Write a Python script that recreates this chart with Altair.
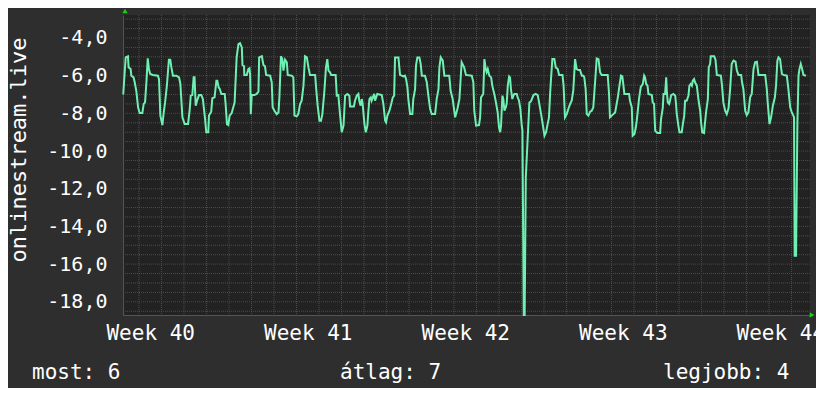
import altair as alt
import pandas as pd

# ---- data (x in days since Monday of week 40) ----
days = [2.30, 2.41, 2.51, 2.54, 2.63, 2.66, 2.76, 2.81, 2.88, 2.96, 3.03, 3.15, 3.21, 3.27, 3.33,
        3.39, 3.44, 3.50, 3.62, 3.84, 3.89, 3.95, 4.04, 4.10, 4.16, 4.24, 4.33, 4.39, 4.44, 4.51,
        4.66, 4.78, 4.84, 4.93, 5.03, 5.18, 5.25, 5.30, 5.37, 5.43, 5.47, 5.52, 5.58, 5.67, 5.77,
        5.84, 5.93, 5.99, 6.08, 6.11, 6.21, 6.26, 6.36, 6.44, 6.48, 6.54, 6.59, 6.66, 6.81, 6.85,
        6.91, 6.97, 7.03, 7.12, 7.25, 7.34, 7.42, 7.49, 7.57, 7.60, 7.67, 7.68, 7.79, 7.86, 7.91,
        7.94, 7.97, 8.01, 8.13, 8.23, 8.31, 8.34, 8.46, 8.53, 8.60, 8.65, 8.83, 8.90, 8.94, 9.02,
        9.12, 9.20, 9.24, 9.31, 9.37, 9.42, 9.49, 9.57, 9.61, 9.79, 9.86, 9.91, 10.01, 10.08, 10.16,
        10.23, 10.31, 10.38, 10.46, 10.53, 10.60, 10.83, 10.87, 10.94, 11.02, 11.09, 11.15, 11.24, 11.31, 11.37,
        11.42, 11.49, 11.54, 11.74, 11.79, 11.86, 11.94, 12.01, 12.09, 12.16, 12.26, 12.35, 12.38, 12.55, 12.60,
        12.68, 12.75, 12.79, 12.85, 12.90, 12.94, 13.02, 13.08, 13.15, 13.19, 13.24, 13.30, 13.34, 13.45, 13.49,
        13.54, 13.59, 13.79, 13.86, 13.94, 13.98, 14.04, 14.13, 14.19, 14.28, 14.34, 14.38, 14.53, 14.60, 14.75,
        14.82, 14.87, 14.93, 14.97, 15.05, 15.15, 15.19, 15.27, 15.31, 15.37, 15.46, 15.52, 15.57, 15.71, 15.79,
        15.86, 15.94, 16.01, 16.16, 16.23, 16.31, 16.35, 16.41, 16.50, 16.57, 16.79, 16.85, 16.94, 17.05, 17.15,
        17.24, 17.34, 17.45, 17.53, 17.79, 17.86, 17.90, 17.98, 18.11, 18.16, 18.20, 18.30, 18.35, 18.41, 18.45,
        18.50, 18.57, 18.65, 18.70, 18.79, 18.85, 18.94, 19.00, 19.05, 19.09, 19.15, 19.19, 19.24, 19.30, 19.34,
        19.39, 19.45, 19.49, 19.53, 19.59, 19.64, 19.68, 19.79, 19.83, 19.89, 19.95, 20.01, 20.04, 20.10, 20.14,
        20.19, 20.35, 20.42, 20.53, 20.63, 20.72, 20.78, 20.87, 20.93, 21.02, 21.09, 21.16, 21.22, 21.27, 21.31,
        21.37, 21.46, 21.52, 21.61, 21.67, 21.82, 21.87, 21.93, 22.01, 22.08, 22.16, 22.23, 22.30, 22.38, 22.45,
        22.53, 22.60, 22.68, 22.75, 22.79, 22.85, 22.90, 22.97, 23.05, 23.12, 23.19, 23.30, 23.34, 23.42, 23.49,
        23.56, 23.83, 23.89, 23.93, 24.01, 24.08, 24.16, 24.28, 24.33, 24.42, 24.48, 24.53, 24.57, 24.78, 24.82,
        24.90, 24.94, 25.02, 25.08, 25.12, 25.16, 25.22, 25.30, 25.39, 25.45, 25.49, 25.54, 25.60, 25.64, 25.79,
        25.83, 25.89, 25.94, 26.04, 26.16, 26.20, 26.28, 26.31, 26.38, 26.43, 26.46, 26.50, 26.56, 26.60, 26.65,
        26.75, 26.83, 26.86, 26.90, 26.97, 27.02, 27.12, 27.17, 27.23, 27.27, 27.34, 27.42, 27.46, 27.52, 27.57,
        27.61, 27.67, 27.71, 27.79, 27.86, 27.94, 27.98, 28.03, 28.11, 28.20, 28.28, 28.32, 28.38, 28.41, 28.56,
        28.62, 28.68, 28.86, 28.91, 28.97, 29.05, 29.12, 29.20, 29.27, 29.34, 29.42, 29.51, 29.57, 29.64, 29.76,
        29.80, 29.86, 29.94, 30.01, 30.08, 30.16, 30.23, 30.31, 30.38, 30.46, 30.53, 30.83, 30.90, 30.94, 31.02,
        31.09, 31.17, 31.26, 31.31, 31.37, 31.42, 31.49, 31.57, 31.64, 31.79, 31.86, 31.94, 32.01, 32.08, 32.11,
        32.14, 32.20, 32.26, 32.31, 32.35, 32.41, 32.47, 32.53, 32.64]

values = [-7.0, -5.03, -4.97, -5.56, -5.65, -6.0, -6.09, -6.35, -6.8, -7.68, -7.98, -7.98, -7.5, -7.42, -6.35,
          -5.08, -5.65, -5.91, -5.96, -6.0, -6.18, -8.12, -8.62, -7.95, -7.42, -6.53, -5.15, -5.15, -5.56, -6.0,
          -6.0, -6.09, -6.44, -8.21, -8.57, -8.57, -7.86, -7.06, -7.03, -6.09, -6.09, -7.59, -7.33, -7.03, -7.03,
          -7.24, -8.21, -9.0, -9.0, -8.12, -7.91, -7.2, -7.15, -6.27, -6.27, -6.62, -6.71, -6.97, -6.97, -7.5,
          -8.57, -8.62, -8.12, -7.98, -7.42, -5.03, -4.32, -4.27, -4.5, -5.43, -5.5, -5.96, -5.96, -5.65, -5.61,
          -5.96, -8.04, -7.03, -7.03, -6.97, -6.85, -5.03, -4.97, -5.43, -5.5, -5.96, -6.0, -6.35, -7.68, -7.86,
          -8.04, -7.95, -7.15, -4.97, -5.12, -5.73, -5.15, -5.29, -5.96, -6.0, -6.09, -8.12, -8.16, -8.04, -7.5,
          -7.33, -6.53, -4.97, -5.03, -5.56, -5.96, -5.96, -6.62, -7.59, -8.39, -8.39, -8.04, -6.8, -5.56, -5.12,
          -5.73, -5.82, -5.96, -5.96, -7.06, -7.03, -8.12, -9.0, -8.65, -7.06, -6.97, -7.06, -7.63, -7.63, -7.33,
          -7.06, -6.97, -7.33, -7.59, -7.24, -7.5, -8.57, -9.0, -8.65, -7.95, -7.24, -7.15, -7.33, -6.97, -7.33,
          -7.15, -6.97, -7.03, -7.5, -8.39, -8.48, -8.12, -7.86, -7.59, -7.15, -7.06, -5.03, -5.03, -5.96, -6.04,
          -6.0, -6.18, -6.62, -7.24, -8.04, -8.04, -7.24, -6.71, -5.47, -5.03, -5.03, -5.38, -6.0, -6.0, -6.35,
          -7.06, -7.77, -8.04, -8.04, -7.24, -6.71, -5.56, -5.03, -5.2, -6.0, -6.0, -6.8, -7.24, -8.21, -7.77,
          -7.24, -5.29, -5.56, -5.96, -6.0, -6.35, -7.86, -8.65, -8.62, -8.21, -7.15, -6.97, -5.12, -5.65, -5.82,
          -5.65, -6.0, -6.09, -6.53, -6.97, -7.33, -7.95, -8.74, -9.0, -8.65, -7.06, -7.24, -7.86, -7.68, -7.5,
          -6.53, -6.04, -6.09, -6.71, -7.24, -7.06, -6.97, -6.97, -7.15, -7.33, -7.77, -8.65, -8.9, -18.7, -18.7,
          -11.4, -7.42, -7.36, -7.03, -6.97, -7.03, -7.42, -8.04, -8.48, -9.19, -9.0, -8.57, -8.21, -6.97, -6.18,
          -5.12, -5.12, -5.56, -5.65, -5.96, -5.96, -6.53, -8.21, -8.04, -7.77, -7.5, -7.33, -6.8, -5.12, -5.65,
          -5.7, -5.7, -6.0, -6.0, -6.09, -6.71, -8.04, -8.12, -7.91, -7.86, -7.68, -5.82, -5.08, -5.12, -5.82,
          -5.96, -5.96, -6.97, -8.21, -8.12, -8.04, -7.95, -7.15, -6.71, -6.0, -6.04, -6.53, -6.97, -6.97, -7.33,
          -7.68, -9.19, -9.1, -8.74, -8.39, -7.95, -7.24, -6.6, -6.44, -6.0, -6.09, -6.44, -6.53, -6.97, -7.03,
          -7.42, -7.5, -8.92, -9.04, -9.04, -8.3, -7.68, -6.97, -6.97, -6.09, -6.89, -7.42, -7.5, -7.33, -7.03,
          -6.97, -7.06, -7.42, -8.04, -8.65, -9.0, -9.0, -8.57, -8.12, -7.33, -7.33, -7.06, -6.53, -6.44, -6.53,
          -6.27, -6.18, -6.35, -6.53, -7.24, -7.86, -8.48, -9.0, -9.04, -7.95, -7.24, -5.56, -5.38, -4.97, -4.97,
          -5.15, -5.96, -6.0, -6.53, -7.42, -7.86, -8.04, -7.73, -6.71, -5.38, -5.2, -5.26, -5.73, -5.96, -5.96,
          -6.35, -6.71, -7.86, -8.09, -7.95, -7.15, -6.97, -5.65, -5.29, -5.26, -5.96, -5.96, -6.71, -7.42, -8.57,
          -8.21, -7.59, -7.15, -6.53, -5.2, -5.03, -5.12, -5.91, -5.96, -6.0, -6.71, -7.68, -7.95, -8.12, -8.21,
          -15.56, -15.56, -8.5, -6.0, -5.65, -5.38, -5.65, -5.96, -6.0]

series_name = "onlinestream.live"
week_numbers = [40, 41, 42, 43, 44]
week_centers = [3.5, 10.5, 17.5, 24.5, 31.5]
week_boundaries = [7, 14, 21, 28]
day_lines = [3, 4, 5, 6, 8, 9, 10, 11, 12, 13, 15, 16, 17, 18, 19, 20,
             22, 23, 24, 25, 26, 27, 29, 30, 31, 32]
y_major = [-4.0, -6.0, -8.0, -10.0, -12.0, -14.0, -16.0, -18.0]
y_minor = [v / 2 for v in range(-37, -5) if v % 4 != 0]
legend_names = ["most", "átlag", "legjobb"]
legend_values = [6, 7, 4]

x_domain = [2.29, 32.82]
y_domain = [-18.7, -2.78]

FONT = "DejaVu Sans Mono"
xs = alt.Scale(domain=x_domain, nice=False, zero=False)
ys = alt.Scale(domain=y_domain, nice=False, zero=False)

df = pd.DataFrame({"day": days, "value": values})

GRAY = "#4e4e4e"
RED = "#8a2c2c"

# label lookup: week center (days) -> week number
week_map = "{" + ", ".join(f"'{c}': {w}" for c, w in zip(week_centers, week_numbers)) + "}"

x_axis = alt.Axis(values=week_centers, grid=False, ticks=False, tickSize=0,
                  labelExpr=f"'Week ' + {week_map}[toString(datum.value)]",
                  labelPadding=7, labelFontSize=21, domain=True,
                  domainColor="#555555", labelFlush=False, labelOverlap=False,
                  labelFont=FONT, labelColor="#ffffff", title=None)
y_axis = alt.Axis(values=y_major, grid=False, ticks=False, tickSize=0,
                  labelExpr="'-' + replace(format(abs(datum.value), '.1f'), '.', ',')",
                  labelPadding=16, labelFontSize=20, domain=True,
                  domainColor="#555555", labelBaseline="middle",
                  labelFont=FONT, labelColor="#ffffff", title=None)

minor_x = alt.Chart(pd.DataFrame({"day": day_lines})).mark_rule(
    color=GRAY, strokeWidth=1, strokeDash=[1, 1]
).encode(x=alt.X("day:Q", scale=xs, axis=x_axis, title=None))

minor_y = alt.Chart(pd.DataFrame({"value": y_minor})).mark_rule(
    color=GRAY, strokeWidth=1, strokeDash=[1, 1]
).encode(y=alt.Y("value:Q", scale=ys, axis=y_axis, title=None))

major_x = alt.Chart(pd.DataFrame({"day": week_boundaries})).mark_rule(
    color=RED, strokeWidth=1, strokeDash=[1, 1]
).encode(x=alt.X("day:Q", scale=xs, axis=x_axis, title=None))

major_y = alt.Chart(pd.DataFrame({"value": y_major})).mark_rule(
    color=RED, strokeWidth=1, strokeDash=[1, 1]
).encode(y=alt.Y("value:Q", scale=ys, axis=y_axis, title=None))

line = alt.Chart(df).mark_line(color="#6ff0b2", strokeWidth=2, interpolate="linear").encode(
    x=alt.X("day:Q", scale=xs, axis=x_axis, title=None),
    y=alt.Y("value:Q", scale=ys, axis=y_axis, title=None),
)

one = pd.DataFrame({"k": [0]})
arrow_up = alt.Chart(one).mark_point(shape="triangle-up", filled=True, color="#19d119",
                                     size=28, opacity=1).encode(x=alt.value(2), y=alt.value(-4))
arrow_right = alt.Chart(one).mark_point(shape="triangle-right", filled=True, color="#19d119",
                                        size=28, opacity=1).encode(x=alt.value(689), y=alt.value(300))

title_txt = alt.Chart(pd.DataFrame({"t": [series_name]})).mark_text(
    font=FONT, fontSize=22, color="#ffffff", angle=270, align="center", baseline="middle"
).encode(text="t:N", x=alt.value(-104), y=alt.value(135))

legend_x = [-91, 217, 540]
legend_layers = []
for name, val, lx in zip(legend_names, legend_values, legend_x):
    legend_layers.append(
        alt.Chart(pd.DataFrame({"t": [f"{name}: {val}"]})).mark_text(
            font=FONT, fontSize=21, color="#ffffff", align="left", baseline="middle"
        ).encode(text="t:N", x=alt.value(lx), y=alt.value(358))
    )

chart = alt.layer(
    minor_x, minor_y, major_x, major_y, line, arrow_up, arrow_right, title_txt, *legend_layers
).properties(
    width=687, height=300,
    padding={"left": 115, "top": 7, "right": 6, "bottom": 73},
    autosize=alt.AutoSizeParams(type="none"),
    background="#2e2e2e",
).configure_view(
    fill="#222222", stroke=None
)

chart.save("out.html", embed_options={"renderer": "svg", "actions": False})
